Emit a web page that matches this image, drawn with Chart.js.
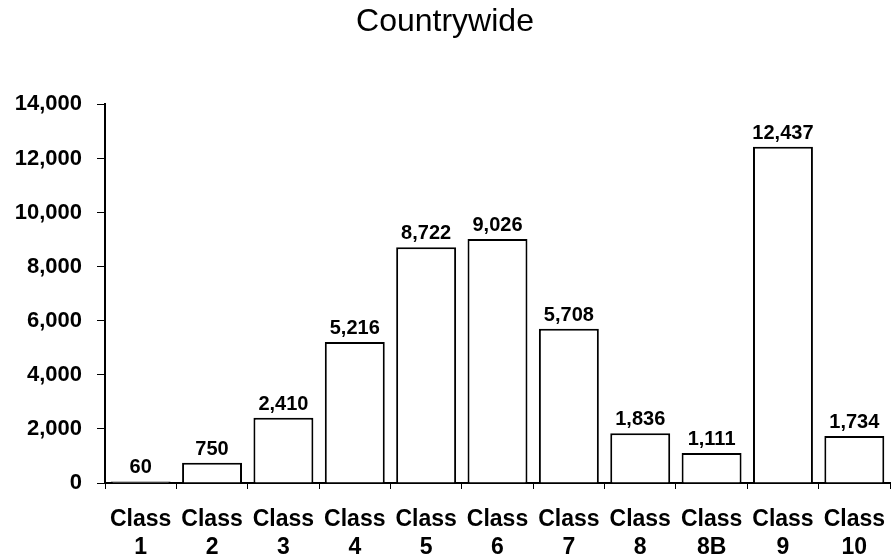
<!DOCTYPE html>
<html>
<head>
<meta charset="utf-8">
<script src="https://cdn.jsdelivr.net/npm/chart.js@4"></script>
<style>
body{margin:0;background:#fff;}
#wrap{width:891px;height:560px;}
</style>
</head>
<body>
<div id="wrap"><canvas id="myChart" width="891" height="560"></canvas></div>
<script>
var classes=[["Class","1"],["Class","2"],["Class","3"],["Class","4"],["Class","5"],["Class","6"],["Class","7"],["Class","8"],["Class","8B"],["Class","9"],["Class","10"]];
var counts=[60,750,2410,5216,8722,9026,5708,1836,1111,12437,1734];
var chartTitle="Countrywide";

var valueLabels={
    id:"valueLabels",
    afterDatasetsDraw:function(chart){
        var ctx=chart.ctx;
        var meta=chart.getDatasetMeta(0);
        ctx.save();
        ctx.font="bold 20px 'Liberation Sans', Arial, sans-serif";
        ctx.fillStyle="#000";
        ctx.textAlign="center";
        ctx.textBaseline="alphabetic";
        meta.data.forEach(function(bar,i){
            ctx.fillText(counts[i].toLocaleString("en-US"),bar.x,bar.y-8);
        });
        ctx.restore();
    }
};

var ctx=document.getElementById("myChart");
var myChart=new Chart(ctx,{
    type:"bar",
    data:{
        labels:classes,
        datasets:[{
            data:counts,
            backgroundColor:"#fff",
            borderColor:"#000",
            borderWidth:2,
            categoryPercentage:1,
            barPercentage:0.84
        }]
    },
    options:{
        responsive:false,
        animation:false,
        layout:{padding:{left:0,right:1,top:0,bottom:0}},
        plugins:{
            legend:{display:false},
            tooltip:{enabled:false},
            title:{
                display:true,
                text:chartTitle,
                color:"#000",
                font:{family:"'Liberation Sans', Arial, sans-serif",size:32,weight:"normal",lineHeight:1.2},
                padding:{top:3,bottom:63}
            }
        },
        scales:{
            x:{
                grid:{display:true,drawOnChartArea:false,offset:true,color:"#000",tickLength:6,lineWidth:1},
                border:{display:true,color:"#000",width:2},
                ticks:{color:"#000",font:{family:"'Liberation Sans', Arial, sans-serif",size:23,weight:"bold",lineHeight:1.25},padding:16,maxRotation:0,autoSkip:false},
                afterFit:function(scale){
                    scale.height=77;
                    scale.paddingLeft=0;
                    scale.paddingRight=0;
                }
            },
            y:{
                min:0,
                max:14000,
                grid:{display:true,drawOnChartArea:false,color:"#000",tickLength:8},
                border:{display:true,color:"#000",width:2},
                ticks:{stepSize:2000,color:"#000",padding:15,font:{family:"'Liberation Sans', Arial, sans-serif",size:22,weight:"bold"},
                    callback:function(v){return v.toLocaleString("en-US");}},
                afterFit:function(scale){scale.width=105;}
            }
        }
    },
    plugins:[valueLabels]
});
</script>
</body>
</html>
